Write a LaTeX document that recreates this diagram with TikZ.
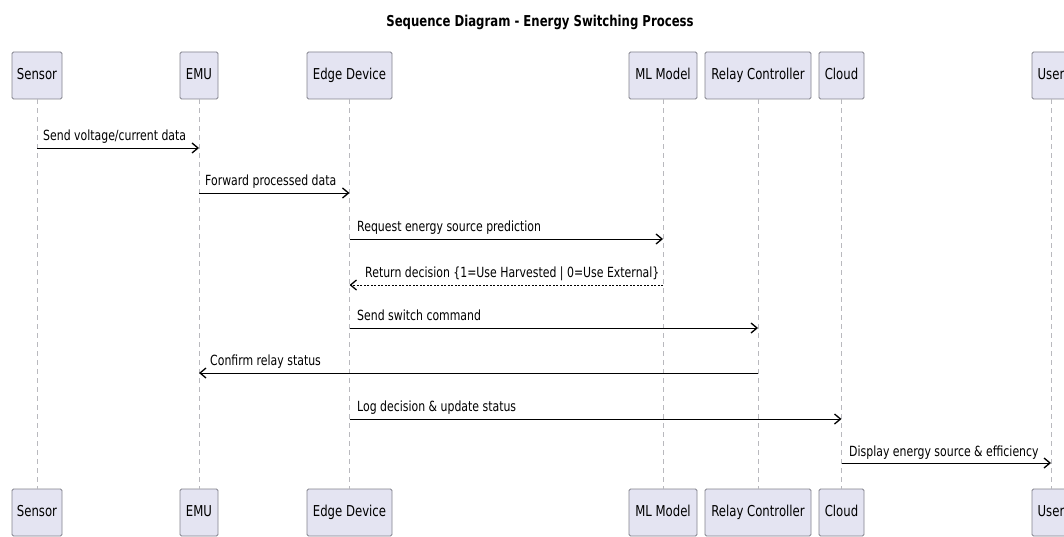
\documentclass[tikz,border=0pt]{standalone}
\usepackage{fontspec}
\setmainfont{DejaVu Sans}[FakeStretch=0.78]
\usetikzlibrary{arrows.meta}
\definecolor{boxfill}{RGB}{228,228,242}
\definecolor{boxline}{RGB}{130,130,140}
\definecolor{lifec}{RGB}{185,185,190}
\begin{document}
\begin{tikzpicture}[x=1pt,y=-1pt,
  part/.style={draw=boxline, fill=boxfill, line width=0.8pt, rounded corners=1.5pt,
    minimum height=47pt, inner sep=0pt, text height=11pt, text depth=3pt,
    font=\fontsize{15}{17}\selectfont},
  life/.style={draw=lifec, dash pattern=on 5pt off 4pt, line width=0.7pt},
  msg/.style={draw=black, line width=0.9pt,
    -{Straight Barb[length=6pt,width=10pt,line width=1.3pt]}},
  ret/.style={msg, dash pattern=on 2pt off 1.5pt},
  lbl/.style={anchor=base west, inner sep=0pt, font=\fontsize{14}{16}\selectfont},
  ttl/.style={font=\fontsize{15}{17}\selectfont\bfseries, inner sep=0pt}
]
\useasboundingbox (0,0) rectangle (1064,537);
\node[ttl] (title) at (540,22) {Sequence Diagram - Energy Switching Process};

% participants top
\node[part, minimum width=50pt]  (sT) at (37,75.5)   {Sensor};
\node[part, minimum width=38pt]  (eT) at (199,75.5)  {EMU};
\node[part, minimum width=85pt]  (dT) at (349.5,75.5) {Edge Device};
\node[part, minimum width=68pt]  (mT) at (663,75.5)  {ML Model};
\node[part, minimum width=106pt] (rT) at (758,75.5)  {Relay Controller};
\node[part, minimum width=45pt]  (cT) at (841.5,75.5) {Cloud};
\node[part, minimum width=38pt]  (uT) at (1051,75.5) {User};
% participants bottom
\node[part, minimum width=50pt]  (sB) at (37,512.5)   {Sensor};
\node[part, minimum width=38pt]  (eB) at (199,512.5)  {EMU};
\node[part, minimum width=85pt]  (dB) at (349.5,512.5) {Edge Device};
\node[part, minimum width=68pt]  (mB) at (663,512.5)  {ML Model};
\node[part, minimum width=106pt] (rB) at (758,512.5)  {Relay Controller};
\node[part, minimum width=45pt]  (cB) at (841.5,512.5) {Cloud};
\node[part, minimum width=38pt]  (uB) at (1051,512.5) {User};

% lifelines
\foreach \p in {s,e,d,m,r,c,u}{
  \draw[life] (\p T.south) -- (\p B.north);
}

% message end points
\coordinate (m1a) at (37,148);  \coordinate (m1b) at (199,148);
\coordinate (m2a) at (199,193); \coordinate (m2b) at (349.5,193);
\coordinate (m3a) at (349.5,239); \coordinate (m3b) at (663,239);
\coordinate (m4a) at (663,285); \coordinate (m4b) at (349.5,285);
\coordinate (m5a) at (349.5,328); \coordinate (m5b) at (758,328);
\coordinate (m6a) at (758,373); \coordinate (m6b) at (199,373);
\coordinate (m7a) at (349.5,419); \coordinate (m7b) at (841.5,419);
\coordinate (m8a) at (841.5,463); \coordinate (m8b) at (1051,463);

\draw[msg] (m1a) -- (m1b);
\draw[msg] (m2a) -- (m2b);
\draw[msg] (m3a) -- (m3b);
\draw[ret] (m4a) -- (m4b);
\draw[msg] (m5a) -- (m5b);
\draw[msg] (m6a) -- (m6b);
\draw[msg] (m7a) -- (m7b);
\draw[msg] (m8a) -- (m8b);

\node[lbl] (l1) at (43,141) {Send voltage/current data};
\node[lbl] (l2) at (205,186) {Forward processed data};
\node[lbl] (l3) at (357,231) {Request energy source prediction};
\node[lbl] (l4) at (365,277) {Return decision \{1=Use Harvested | 0=Use External\}};
\node[lbl] (l5) at (357,320) {Send switch command};
\node[lbl] (l6) at (210,365) {Confirm relay status};
\node[lbl] (l7) at (357,411) {Log decision \& update status};
\node[lbl] (l8) at (849,456) {Display energy source \& efficiency};
\end{tikzpicture}
\end{document}
